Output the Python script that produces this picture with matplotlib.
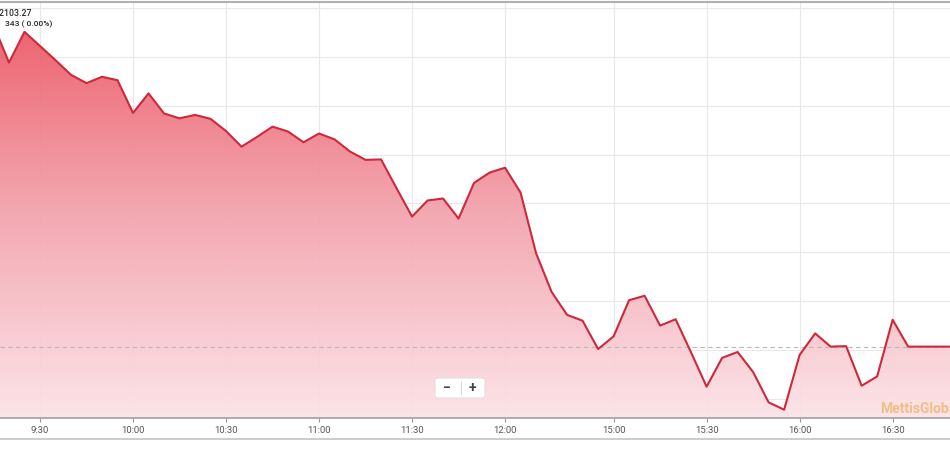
import matplotlib.pyplot as plt
import numpy as np
from matplotlib.colors import LinearSegmentedColormap
from matplotlib.patches import FancyBboxPatch
from matplotlib.lines import Line2D

plt.rcParams['font.family'] = ['Roboto', 'DejaVu Sans']


def session(h0, m0, h1, m1):
    out = []
    t = h0 * 60 + m0
    while t <= h1 * 60 + m1:
        out.append(f'{t // 60}:{t % 60:02d}')
        t += 5
    return out


# 5-minute bars, morning + afternoon session (index based axis)
times = session(9, 15, 12, 30) + session(15, 0, 16, 50)

prices = [
    32076.5, 32068.8, 32075.1, 32072.2, 32069.3, 32066.3, 32064.6, 32065.9,
    32065.2, 32058.5, 32062.5, 32058.4, 32057.4, 32058.1, 32057.3, 32054.8,
    32051.6, 32053.6, 32055.7, 32054.7, 32052.5, 32054.3, 32053.1, 32050.6,
    32048.9, 32049.0, 32043.1, 32037.3, 32040.6, 32041.0, 32036.9, 32044.2,
    32046.3, 32047.3, 32042.2, 32029.8, 32021.9, 32017.2, 32016.0, 32010.2,
    32012.8, 32020.2, 32021.1, 32015.0, 32016.3, 32009.5, 32002.5, 32008.4,
    32009.6, 32005.5, 31999.3, 31997.8, 32009.0, 32013.4, 32010.7, 32010.8,
    32002.7, 32004.6, 32016.2, 32010.7, 32010.7, 32010.7, 32010.7,
]

prev_close = 32010.6
tick_labels = ['9:30', '10:00', '10:30', '11:00', '11:30', '12:00',
               '15:00', '15:30', '16:00', '16:30']

fig = plt.figure(figsize=(9.5, 4.5), dpi=100)
ax = fig.add_axes([0, 32 / 450, 1, 416 / 450])

x = np.arange(len(times))
x0, x1 = 0.42, 61.7
y0, y1 = 31996.1, 32081.2
ax.set_xlim(x0, x1)
ax.set_ylim(y0, y1)

# gradient fill under the line (slightly see-through so the grid shows faintly)
cmap = LinearSegmentedColormap.from_list('fill', ['#fce3e7', '#f3a2ac', '#ea505d'])
grad = np.linspace(1, 0, 256).reshape(-1, 1)
im = ax.imshow(grad, extent=[x0, x1, y0, y1], aspect='auto', cmap=cmap,
               origin='upper', zorder=2, interpolation='bicubic', alpha=0.94)
poly = ax.fill_between(x, prices, y0, color='none', lw=0)
im.set_clip_path(poly.get_paths()[0], transform=ax.transData)

ax.plot(x, prices, color='#d0283b', lw=1.5, zorder=4)
ax.axhline(prev_close, color='#b8b8b8', lw=0.8, ls=(0, (4, 3)), zorder=3)

ax.set_yticks([32000 + 10 * k for k in range(9)])
ax.set_xticks([times.index(t) for t in tick_labels])
ax.set_xticklabels(tick_labels)
ax.grid(True, color='#e8e8e8', lw=0.8, zorder=1)
ax.set_axisbelow(True)
ax.tick_params(axis='y', left=False, labelleft=False)
ax.tick_params(axis='x', length=3, width=0.8, color='#999999',
               labelsize=6.8, labelcolor='#555555', pad=3)

for s in ['left', 'right']:
    ax.spines[s].set_visible(False)
ax.spines['bottom'].set_color('#a0a0a0')
ax.spines['bottom'].set_linewidth(1.2)
ax.spines['top'].set_color('#b0b0b0')
ax.spines['top'].set_linewidth(1.5)

# frame line under the axis labels
fig.add_artist(Line2D([0, 1], [11 / 450, 11 / 450], color='#c4c4c4', lw=1.2,
                      transform=fig.transFigure))

# zoom control
W, H = 950, 450
box = FancyBboxPatch((435 / W, (H - 398) / H), 50 / W, 20 / H,
                     boxstyle='round,pad=0,rounding_size=0.004',
                     transform=fig.transFigure, facecolor='white',
                     edgecolor='#e0e0e0', lw=0.8, zorder=10)
fig.add_artist(box)
fig.text(447 / W, (H - 388) / H, '−', fontsize=10, fontweight='bold',
         color='#444444', ha='center', va='center', zorder=11)
fig.text(472 / W, (H - 388) / H, '+', fontsize=10, fontweight='bold',
         color='#444444', ha='center', va='center', zorder=11)
fig.add_artist(Line2D([461 / W, 461 / W], [(H - 394) / H, (H - 382) / H],
                      color='#d8d8d8', lw=0.8, transform=fig.transFigure, zorder=11))

# watermark
ax.text(880 / W, (418 - 409) / 416, 'MettisGlobal', transform=ax.transAxes,
        fontsize=10, fontweight='bold', color='#f3b676', alpha=0.85,
        ha='left', va='center', zorder=5, clip_on=True)

# tooltip text at the top left
fig.text(-5 / W, (H - 13) / H, '32103.27', fontsize=6.3, color='#2a2a2a',
         fontweight='medium', ha='left', va='center')
fig.text(5 / W, (H - 24) / H, '343 ( 0.00%)', fontsize=6.0, color='#2a2a2a',
         fontweight='medium', ha='left', va='center')

plt.savefig('out.png', dpi=100)
